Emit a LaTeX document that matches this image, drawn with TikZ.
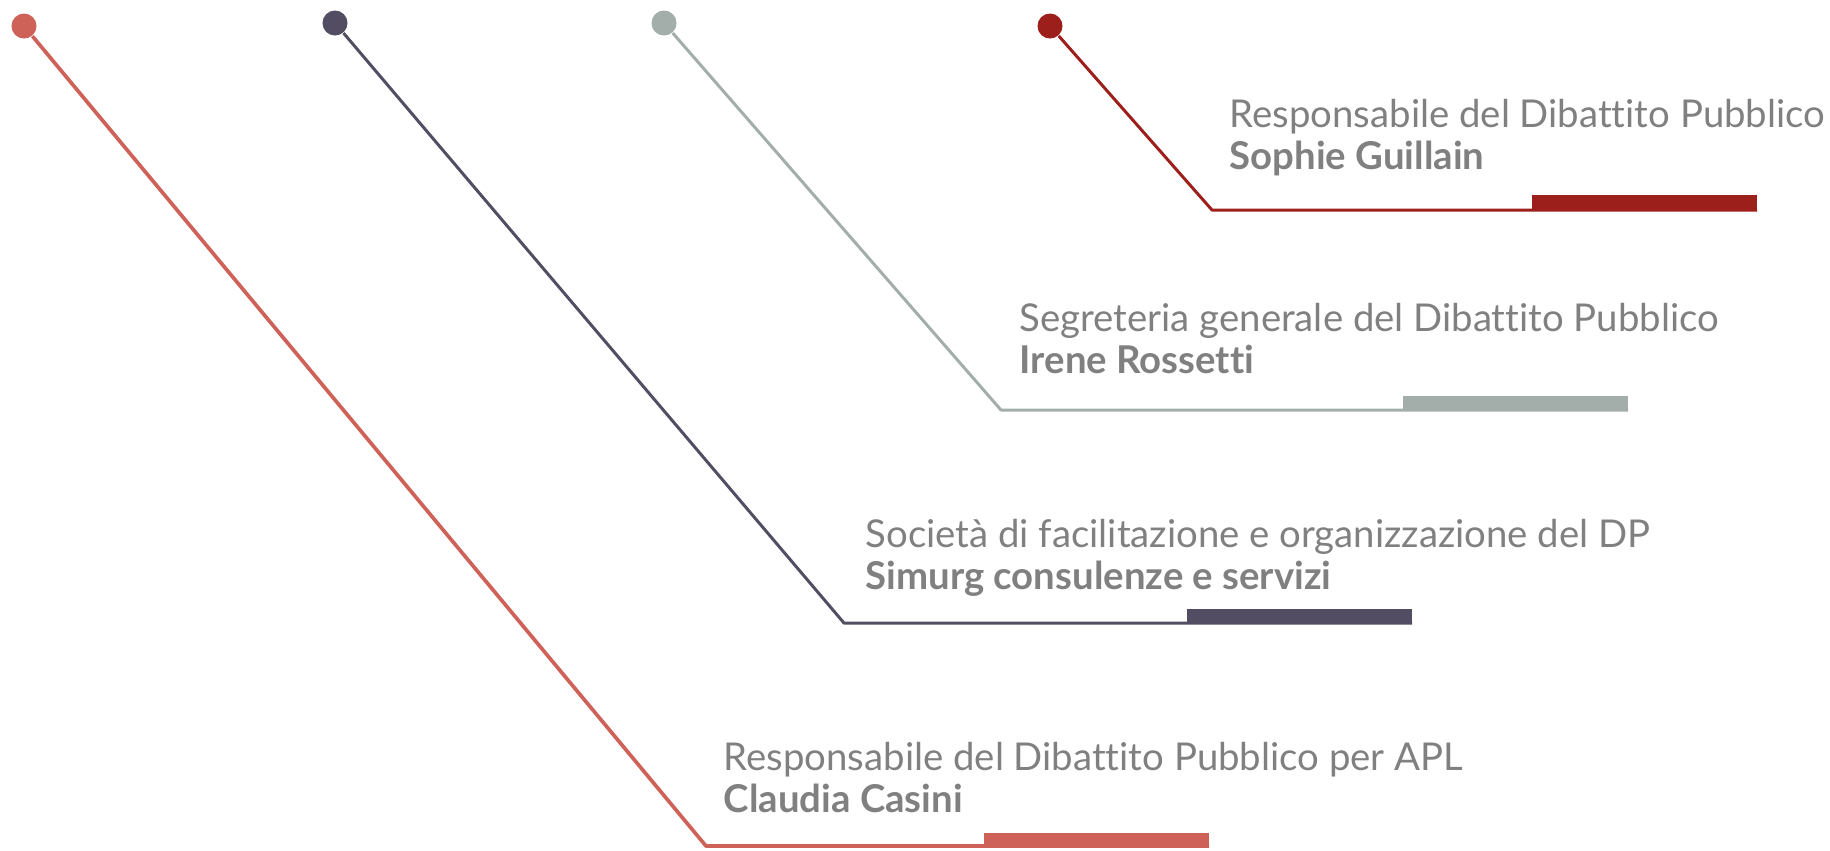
\documentclass[tikz,border=0pt]{standalone}
\usepackage{fontspec}
\setmainfont{Lato}[Ligatures=NoCommon]
\usetikzlibrary{positioning}

\definecolor{salmon}{HTML}{CE6259}
\definecolor{slate}{HTML}{524D62}
\definecolor{sage}{HTML}{A3ADAA}
\definecolor{darkred}{HTML}{9C1F1B}
\definecolor{textgray}{HTML}{808080}

\begin{document}
\begin{tikzpicture}[
  x=0.01cm, y=-0.01cm,
  dot/.style={circle, fill=#1, inner sep=0pt, minimum size=0.25cm},
  lead/.style={draw=#1, line width=0.85pt, line join=round},
  role/.style={anchor=base west, inner sep=0pt, text=textgray, font=\fontsize{10.9}{12}\selectfont},
  who/.style={role, font=\fontsize{10.9}{12}\selectfont\bfseries}
]
  \useasboundingbox (0,0) rectangle (1830,850);

  % pins along the top
  \node[dot=salmon] (p1) at (24,26) {};
  \node[dot=slate] (p2) at (335,23) {};
  \node[dot=sage] (p3) at (664,23) {};
  \node[dot=darkred] (p4) at (1050,26) {};

  % bends and ends
  \coordinate (k1) at (706,846);
  \coordinate (e1) at (1209,846);
  \coordinate (k2) at (844,623);
  \coordinate (e2) at (1412,623);
  \coordinate (k3) at (1001,410);
  \coordinate (e3) at (1628,410);
  \coordinate (k4) at (1212,210);
  \coordinate (e4) at (1757,210);

  % leaders
  \draw[lead=salmon, line width=1.05pt] (p1) -- (k1) -- (e1);
  \draw[lead=slate] (p2) -- (k2) -- (e2);
  \draw[lead=sage] (p3) -- (k3) -- (e3);
  \draw[lead=darkred] (p4) -- (k4) -- (e4);

  % bars
  \fill[salmon] (984,833) rectangle (1209,848);
  \fill[slate] (1187,609) rectangle (1412,624);
  \fill[sage] (1403,396) rectangle (1628,411);
  \fill[darkred] (1532,195) rectangle (1757,211);

  % labels
  \node[role] (r4) at (1229,127) {Responsabile del Dibattito Pubblico};
  \node[who] (n4) at ([yshift=-0.42cm]r4.base west) {Sophie Guillain};
  \node[role] (r3) at (1019,331) {Segreteria generale del Dibattito Pubblico};
  \node[who] (n3) at ([yshift=-0.42cm]r3.base west) {Irene Rossetti};
  \node[role] (r2) at (865,547) {Società di facilitazione e organizzazione del DP};
  \node[who] (n2) at ([yshift=-0.42cm]r2.base west) {Simurg consulenze e servizi};
  \node[role] (r1) at (723,770) {Responsabile del Dibattito Pubblico per APL};
  \node[who] (n1) at ([yshift=-0.42cm]r1.base west) {Claudia Casini};
\end{tikzpicture}
\end{document}
